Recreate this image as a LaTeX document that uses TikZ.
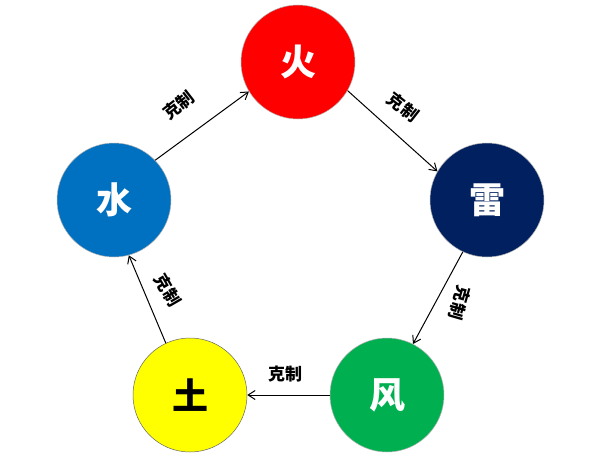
\documentclass[tikz,border=0pt]{standalone}
\usepackage{fontspec}
\newfontfamily\cjk{Noto Sans CJK SC}
\usetikzlibrary{arrows.meta}
\definecolor{chuo}{HTML}{FF0000}
\definecolor{clei}{HTML}{002060}
\definecolor{cfeng}{HTML}{00B050}
\definecolor{ctu}{HTML}{FFFF00}
\definecolor{cshui}{HTML}{0070C0}
\tikzset{
  elem/.style={circle, minimum size=114pt, inner sep=0pt, draw=black!30, line width=0.5pt,
               font=\cjk\bfseries\fontsize{36}{40}\selectfont, text=white},
  kz/.style={font=\cjk\bfseries\fontsize{17}{19}\selectfont, inner sep=1pt},
  kzarr/.style={-{Straight Barb[length=7pt,width=9pt]}, draw=black, line width=1pt}
}
\begin{document}
\begin{tikzpicture}[x=1pt, y=-1pt]
\useasboundingbox (0,0) rectangle (602,463);

\node[elem, fill=chuo] (huo) at (298,62) {火};
\node[elem, fill=clei] (lei) at (487,200) {雷};
\node[elem, fill=cfeng] (feng) at (387,395) {风};
\node[elem, fill=ctu, text=black, draw=black!60] (tu) at (190,395) {土};
\node[elem, fill=cshui] (shui) at (114,200) {水};

\draw[kzarr] (shui.44) -- (huo.211);
\draw[kzarr] (huo.-30) -- (lei.150);
\draw[kzarr] (lei.245) -- (feng.63);
\draw[kzarr] (feng.west) -- (tu.east);
\draw[kzarr] (tu.115) -- (shui.285);

\node[kz, rotate=38] (k1) at (179,105) {克制};
\node[kz, rotate=-38] (k2) at (403,107) {克制};
\node[kz, rotate=-106] (k3) at (460,303) {克制};
\node[kz] (k4) at (285,374) {克制};
\node[kz, rotate=-60] (k5) at (168,290) {克制};

\end{tikzpicture}
\end{document}
